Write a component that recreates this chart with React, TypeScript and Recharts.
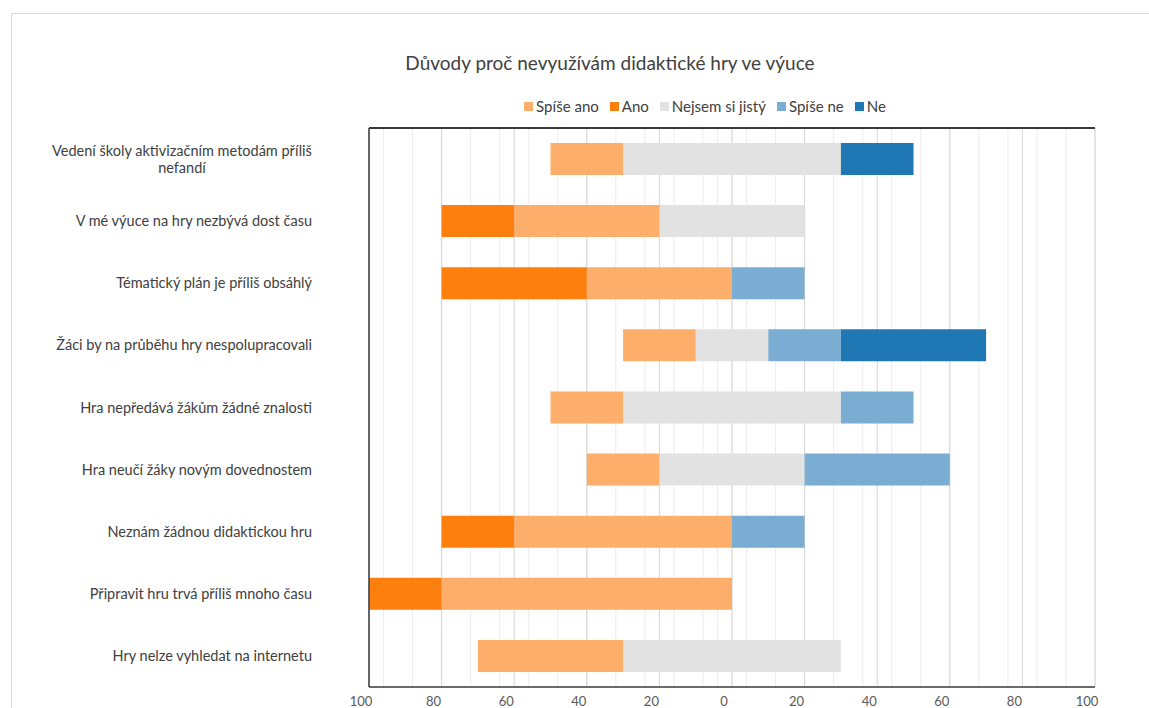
import React from "react";
import { BarChart, Bar, XAxis, YAxis, CartesianGrid } from "recharts";

// Answers per statement, in percent of respondents
const categories = [
  "Vedení školy aktivizačním metodám příliš nefandí",
  "V mé výuce na hry nezbývá dost času",
  "Tématický plán je příliš obsáhlý",
  "Žáci by na průběhu hry nespolupracovali",
  "Hra nepředává žákům žádné znalosti",
  "Hra neučí žáky novým dovednostem",
  "Neznám žádnou didaktickou hru",
  "Připravit hru trvá příliš mnoho času",
  "Hry nelze vyhledat na internetu",
];
const spiseAno = [20, 40, 40, 20, 20, 20, 60, 80, 40];
const ano = [0, 20, 40, 0, 0, 0, 20, 20, 0];
const nejsem = [60, 40, 0, 20, 60, 40, 0, 0, 60];
const spiseNe = [0, 0, 20, 20, 20, 40, 20, 0, 0];
const ne = [20, 0, 0, 40, 0, 0, 0, 0, 0];

const majorTicks = [-100, -80, -60, -40, -20, 0, 20, 40, 60, 80, 100];
const minorTicks = Array.from({ length: 51 }, (_, i) => -100 + i * 4);

const COLORS = {
  spiseAno: "#fdae6b",
  ano: "#fd7f0e",
  nejsem: "#e2e2e2",
  spiseNe: "#7badd3",
  ne: "#1f77b4",
};

const legendItems = [
  { label: "Spíše ano", color: COLORS.spiseAno },
  { label: "Ano", color: COLORS.ano },
  { label: "Nejsem si jistý", color: COLORS.nejsem },
  { label: "Spíše ne", color: COLORS.spiseNe },
  { label: "Ne", color: COLORS.ne },
];

// negative side: neutral half, then "spíše ano", then "ano" further out
const rows = categories.map((name, i) => ({
  name,
  neutralLeft: -nejsem[i] / 2,
  spiseAno: -spiseAno[i],
  ano: -ano[i],
  neutralRight: nejsem[i] / 2,
  spiseNe: spiseNe[i],
  ne: ne[i],
}));

const FONT = "Lato, 'Open Sans', sans-serif";
const LABEL_SIZE = 14.5;
const LABEL_MAX = 272;
const FRAME = "#3a3a3a";

let ctx: CanvasRenderingContext2D | null = null;
function textWidth(s: string) {
  if (!ctx) ctx = document.createElement("canvas").getContext("2d");
  if (!ctx) return s.length * LABEL_SIZE * 0.5;
  ctx.font = `${LABEL_SIZE}px ${FONT}`;
  return ctx.measureText(s).width;
}

function wrap(s: string) {
  const words = s.split(" ");
  const lines: string[] = [];
  let cur = "";
  for (const w of words) {
    const next = cur ? cur + " " + w : w;
    if (cur && textWidth(next) > LABEL_MAX) {
      lines.push(cur);
      cur = w;
    } else cur = next;
  }
  if (cur) lines.push(cur);
  return lines;
}

function CategoryTick(props: any) {
  const { x, y, payload } = props;
  const lines = wrap(String(payload.value));
  const block = Math.max(...lines.map(textWidth));
  const right = x - 57;
  const lh = 17;
  const first = y - ((lines.length - 1) * lh) / 2;
  const multi = lines.length > 1;
  return (
    <g>
      {lines.map((l, i) => (
        <text
          key={i}
          x={multi ? right - block / 2 : right}
          y={first + i * lh}
          dy="0.35em"
          textAnchor={multi ? "middle" : "end"}
          fontSize={LABEL_SIZE}
          fontFamily={FONT}
          fill="#404040"
        >
          {l}
        </text>
      ))}
    </g>
  );
}

export default function App() {
  return (
    <div
      style={{
        position: "absolute",
        left: 0,
        top: 0,
        width: 1149,
        height: 708,
        overflow: "hidden",
        background: "#fff",
        fontFamily: FONT,
      }}
    >
      <div
        style={{
          position: "absolute",
          left: 11,
          top: 13,
          width: 1200,
          height: 800,
          border: "1px solid #d9d9d9",
        }}
      />
      <div
        style={{
          position: "absolute",
          left: 0,
          width: 1220,
          top: 51,
          lineHeight: "24px",
          textAlign: "center",
          fontSize: 19,
          color: "#404040",
        }}
      >
        Důvody proč nevyužívám didaktické hry ve výuce
      </div>
      <div
        style={{
          position: "absolute",
          left: 524,
          top: 96,
          display: "flex",
          alignItems: "center",
          fontSize: 15,
          lineHeight: "20px",
          color: "#404040",
        }}
      >
        {legendItems.map((it) => (
          <div
            key={it.label}
            style={{ display: "flex", alignItems: "center", marginRight: 11 }}
          >
            <span
              style={{
                width: 9,
                height: 9,
                background: it.color,
                marginRight: 3,
                display: "inline-block",
              }}
            />
            {it.label}
          </div>
        ))}
      </div>
      <div style={{ position: "absolute", left: 0, top: 0 }}>
        <BarChart
          width={1149}
          height={708}
          data={rows}
          layout="vertical"
          stackOffset="sign"
          barSize={32}
          margin={{ top: 128, right: 54, bottom: 0, left: 0 }}
        >
          <CartesianGrid
            horizontal={false}
            verticalValues={minorTicks}
            stroke="#ececec"
          />
          <CartesianGrid
            horizontal={false}
            verticalValues={majorTicks}
            stroke="#d6d6d6"
          />
          <XAxis
            type="number"
            domain={[-100, 100]}
            ticks={majorTicks}
            tickFormatter={(v: number) => String(Math.abs(v))}
            height={21}
            tickLine={false}
            tickSize={0}
            tickMargin={10}
            axisLine={{ stroke: FRAME, strokeWidth: 1.5 }}
            tick={{ fill: "#595959", fontSize: 13, fontFamily: FONT, dx: -8 }}
            allowDataOverflow
          />
          <YAxis
            type="category"
            dataKey="name"
            width={369}
            tickLine={false}
            tickSize={0}
            tickMargin={0}
            interval={0}
            axisLine={{ stroke: FRAME, strokeWidth: 1.5 }}
            tick={<CategoryTick />}
          />
          <Bar dataKey="neutralLeft" stackId="s" fill={COLORS.nejsem} isAnimationActive={false} />
          <Bar dataKey="spiseAno" stackId="s" fill={COLORS.spiseAno} isAnimationActive={false} />
          <Bar dataKey="ano" stackId="s" fill={COLORS.ano} isAnimationActive={false} />
          <Bar dataKey="neutralRight" stackId="s" fill={COLORS.nejsem} isAnimationActive={false} />
          <Bar dataKey="spiseNe" stackId="s" fill={COLORS.spiseNe} isAnimationActive={false} />
          <Bar dataKey="ne" stackId="s" fill={COLORS.ne} isAnimationActive={false} />
        </BarChart>
      </div>
      {/* top edge of the plot frame */}
      <div
        style={{
          position: "absolute",
          left: 369,
          top: 127.25,
          width: 726,
          height: 1.5,
          background: FRAME,
        }}
      />
    </div>
  );
}
